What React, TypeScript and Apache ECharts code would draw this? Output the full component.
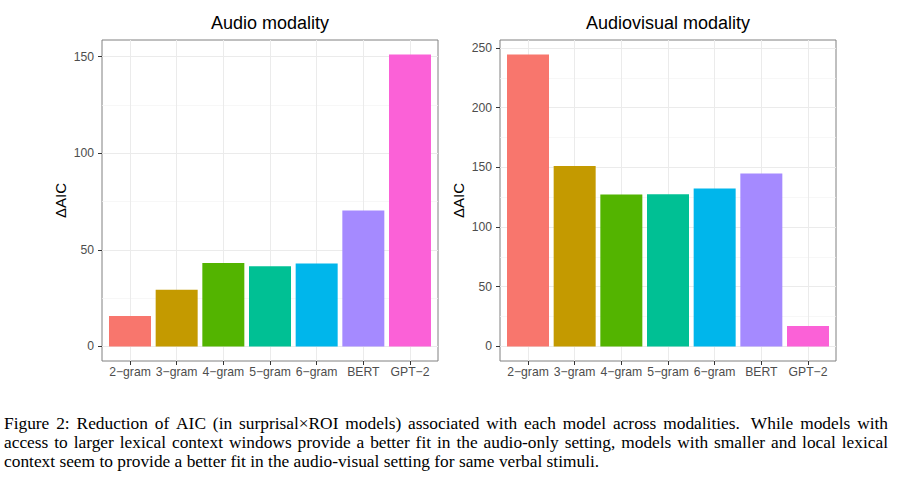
import React, { useEffect, useRef } from 'react';
import * as echarts from 'echarts';

const categories = ['2−gram', '3−gram', '4−gram', '5−gram', '6−gram', 'BERT', 'GPT−2'];
const audioValues = [15.7, 29.3, 43.2, 41.5, 42.9, 70.3, 151.0];
const audiovisualValues = [244.5, 151.2, 127.3, 127.5, 132.3, 144.8, 17.0];
const barColors = ['#F8766D', '#C49A00', '#53B400', '#00C094', '#00B6EB', '#A58AFF', '#FB61D7'];
const audioMajorTicks = [0, 50, 100, 150];
const audioMinorTicks = [25, 75, 125];
const avMajorTicks = [0, 50, 100, 150, 200, 250];
const avMinorTicks = [25, 75, 125, 175, 225];
const panelTitles = ['Audio modality', 'Audiovisual modality'];
const yAxisTitle = 'ΔAIC';
const captionLines = [
  'Figure 2: Reduction of AIC (in surprisal×ROI models) associated with each model across modalities.  While models with',
  'access to larger lexical context windows provide a better fit in the audio-only setting, models with smaller and local lexical',
  'context seem to provide a better fit in the audio-visual setting for same verbal stimuli.',
];

const SANS = '"Liberation Sans", Arial, Helvetica, sans-serif';
const SERIF = '"Liberation Serif", "Times New Roman", Times, serif';

const W = 902;
const H = 500;

export default function App() {
  const ref = useRef<HTMLDivElement>(null);

  useEffect(() => {
    if (!ref.current) return;
    document.body.style.margin = '0';
    const chart = echarts.init(ref.current, undefined, { renderer: 'svg', width: W, height: H });

    const panels = [
      { left: 102, values: audioValues, major: audioMajorTicks, minor: audioMinorTicks, title: panelTitles[0] },
      { left: 500, values: audiovisualValues, major: avMajorTicks, minor: avMinorTicks, title: panelTitles[1] },
    ];
    const top = 40;
    const gw = 336;
    const gh = 321;
    const positions = categories.map((_, i) => i + 1);
    const xMin = 0.4;
    const xMax = categories.length + 0.6;
    const unit = gw / (xMax - xMin);

    const grids: any[] = [];
    const xAxes: any[] = [];
    const yAxes: any[] = [];
    const series: any[] = [];
    const graphics: any[] = [];

    panels.forEach((p, gi) => {
      const vmax = Math.max(...p.values);
      const yMin = -0.05 * vmax;
      const yMax = 1.05 * vmax;
      grids.push({
        left: p.left, top, width: gw, height: gh,
        show: true, borderColor: '#808080', borderWidth: 1, backgroundColor: 'transparent',
        containLabel: false, outerBoundsMode: 'none',
      });
      xAxes.push({
        type: 'value', gridIndex: gi, min: xMin, max: xMax,
        axisLine: { show: false, onZero: false },
        axisTick: { show: true, length: 4, lineStyle: { color: '#333' }, customValues: positions },
        axisLabel: {
          customValues: positions,
          formatter: (v: number) => categories[Math.round(v) - 1] ?? '',
          color: '#4d4d4d', fontSize: 12.2, fontFamily: SANS, margin: 5,
        },
        splitLine: { show: true, lineStyle: { color: '#ebebeb', width: 1 } },
      });
      const majorIdx = yAxes.length;
      yAxes.push({
        type: 'value', gridIndex: gi, min: yMin, max: yMax, position: 'left',
        axisLine: { show: false, onZero: false },
        axisTick: { show: true, length: 4, lineStyle: { color: '#333' }, customValues: p.major },
        axisLabel: { customValues: p.major, color: '#4d4d4d', fontSize: 12.2, fontFamily: SANS, margin: 8 },
        splitLine: { show: true, lineStyle: { color: '#ebebeb', width: 1 } },
        name: yAxisTitle, nameLocation: 'middle', nameRotate: 90, nameGap: 34,
        nameTextStyle: { color: '#000', fontSize: 15, fontFamily: SANS },
      });
      yAxes.push({
        type: 'value', gridIndex: gi, min: yMin, max: yMax, position: 'left',
        axisLine: { show: false, onZero: false },
        axisTick: { show: false, customValues: p.minor },
        axisLabel: { show: false, customValues: p.minor },
        splitLine: { show: true, lineStyle: { color: '#f3f3f3', width: 0.7 } },
      });
      series.push({
        type: 'bar', xAxisIndex: gi, yAxisIndex: majorIdx, barWidth: unit * 0.9, z: 3,
        data: p.values.map((v, i) => ({ value: [positions[i], v], itemStyle: { color: barColors[i] } })),
      });
      graphics.push({
        type: 'text', x: p.left + gw / 2, y: 23,
        style: {
          text: p.title, fontSize: 18, fontFamily: SANS, fill: '#000',
          align: 'center', verticalAlign: 'middle', textAlign: 'center', textVerticalAlign: 'middle',
        },
      });
    });

    // caption (justified like the LaTeX figure caption)
    const ctx = document.createElement('canvas').getContext('2d')!;
    const capSize = 16;
    const capScaleX = 1.085;
    ctx.font = `${capSize}px ${SERIF}`;
    const x0 = 4;
    const x1 = 888;
    const baseY = 424;
    const lineGap = 19;
    captionLines.forEach((line, li) => {
      const y = baseY + li * lineGap;
      const justify = li < captionLines.length - 1;
      const common = {
        fontSize: capSize, fontFamily: SERIF, fill: '#000',
        align: 'left', verticalAlign: 'middle', textAlign: 'left', textVerticalAlign: 'middle',
      };
      if (!justify) {
        graphics.push({ type: 'text', x: x0, y, scaleX: capScaleX, style: { text: line, ...common } });
        return;
      }
      const tokens = line.split(' ');
      const words: string[] = [];
      const weights: number[] = [];
      let pending = 0;
      tokens.forEach((t) => {
        if (t === '') {
          pending += 0.6;
        } else {
          if (words.length) weights.push(1 + pending);
          pending = 0;
          words.push(t);
        }
      });
      const widths = words.map((w) => ctx.measureText(w).width * capScaleX);
      const total = widths.reduce((a, b) => a + b, 0);
      const wsum = weights.reduce((a, b) => a + b, 0);
      const per = (x1 - x0 - total) / wsum;
      let x = x0;
      words.forEach((w, i) => {
        graphics.push({ type: 'text', x, y, scaleX: capScaleX, style: { text: w, ...common } });
        x += widths[i] + (i < weights.length ? weights[i] * per : 0);
      });
    });

    chart.setOption({
      animation: false,
      backgroundColor: '#fff',
      grid: grids,
      xAxis: xAxes,
      yAxis: yAxes,
      series,
      graphic: graphics,
      tooltip: { show: false },
    });

    return () => chart.dispose();
  }, []);

  return <div ref={ref} style={{ width: W, height: H, background: '#fff' }} />;
}
